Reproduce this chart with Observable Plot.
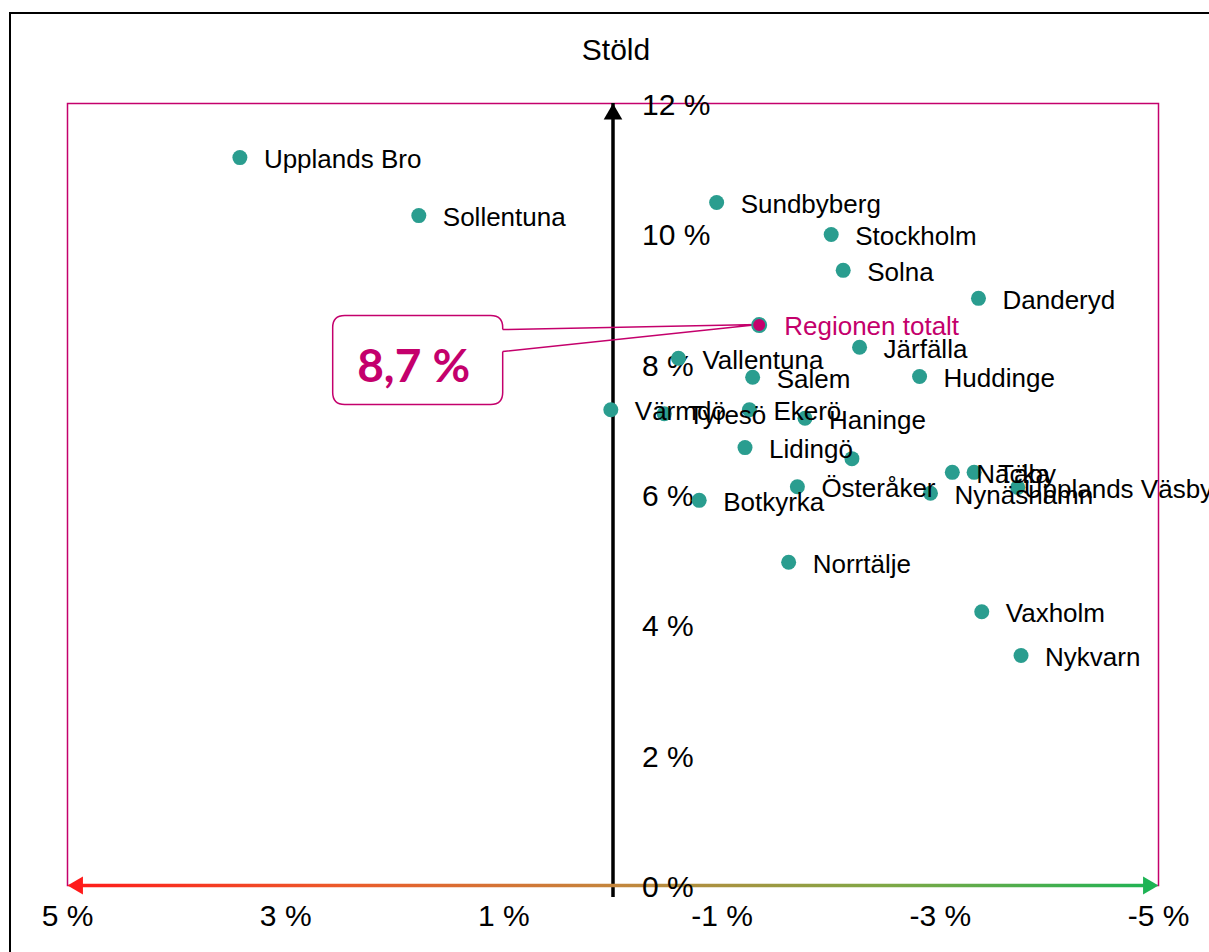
<!DOCTYPE html>
<html>
<head>
<meta charset="utf-8">
<script src="https://cdn.jsdelivr.net/npm/d3@7"></script>
<script src="https://cdn.jsdelivr.net/npm/@observablehq/plot@0.6"></script>
<style>
html, body { margin: 0; padding: 0; background: #fff; overflow: hidden; }
#wrap { position: relative; width: 1209px; height: 952px; font-family: "Liberation Sans", Arial, sans-serif; }
#border { position: absolute; left: 9px; top: 12px; width: 1400px; height: 1200px; border: 2px solid #000; box-sizing: border-box; pointer-events: none; }
#title { position: relative; width: 1209px; height: 80px; box-sizing: border-box; padding-top: 32px; padding-left: 23px; text-align: center; font-size: 30px; line-height: 36px; color: #000; }
#chart svg { display: block; }
</style>
</head>
<body>
<div id="wrap">
  <div id="border"></div>
  <div id="title"></div>
  <div id="chart"></div>
</div>
<script>
// ---- data ----
const chartTitle = "Stöld";
const municipalities = ["Upplands Bro","Sollentuna","Sundbyberg","Stockholm","Solna","Danderyd","Järfälla","Vallentuna","Salem","Huddinge","Värmdö","Tyresö","Ekerö","Haninge","Lidingö","","Österåker","Botkyrka","Nacka","Täby","Upplands Väsby","Nynäshamn","Norrtälje","Vaxholm","Nykvarn"];
const changeValues = [3.42,1.78,-0.95,-2.00,-2.11,-3.35,-2.26,-0.60,-1.28,-2.81,0.02,-0.47,-1.25,-1.76,-1.21,-2.19,-1.69,-0.79,-3.11,-3.31,-3.71,-2.91,-1.61,-3.38,-3.74];
const theftValues = [11.17,10.28,10.48,9.99,9.44,9.01,8.26,8.09,7.80,7.81,7.30,7.24,7.30,7.17,6.72,6.55,6.12,5.91,6.34,6.34,6.11,6.02,4.96,4.20,3.53];
const regionName = "Regionen totalt";
const regionChange = -1.34;
const regionTheft = 8.6;
const regionCallout = "8,7 %";
const xTickValues = [5, 3, 1, -1, -3, -5];
const yTickValues = [0, 2, 4, 6, 8, 10, 12];

// ---- styles ----
const teal = "#2a9d8f";
const crimson = "#c4006c";

document.getElementById("title").textContent = chartTitle;

const rows = municipalities.map((name, i) => ({name, x: changeValues[i], y: theftValues[i]}));
const region = [{name: regionName, x: regionChange, y: regionTheft}];
const fmt = d => `${d} %`;

const chart = Plot.plot({
  width: 1209,
  height: 872,
  marginTop: 23,
  marginBottom: 67,
  marginLeft: 67,
  marginRight: 51,
  style: {fontFamily: '"Liberation Sans", Arial, sans-serif', background: "transparent", overflow: "visible"},
  x: {domain: [5, -5], axis: null},
  y: {domain: [0, 12], axis: null},
  marks: [
    Plot.frame({stroke: crimson, strokeWidth: 1.5}),
    // vertical axis arrow
    Plot.ruleX([0], {y1: 0, y2: 12, stroke: "#000", strokeWidth: 3.5, insetTop: 12}),
    Plot.dot([{x: 0, y: 12}], {x: "x", y: "y", symbol: "triangle", r: 6.9, fill: "#000", stroke: null, dy: 10.7}),
    // horizontal gradient arrow
    Plot.ruleY([0], {x1: 5, x2: -5, stroke: "url(#xgrad)", strokeWidth: 3.5, insetLeft: 12, insetRight: 12}),
    Plot.dot([{x: 5, y: 0}], {x: "x", y: "y", symbol: "triangle", rotate: -90, r: 6.6, fill: "#ff1a1a", stroke: null, dx: 10.3}),
    Plot.dot([{x: -5, y: 0}], {x: "x", y: "y", symbol: "triangle", rotate: 90, r: 6.6, fill: "#1db354", stroke: null, dx: -10.3}),
    // tick labels
    Plot.text(yTickValues, {x: () => 0, y: d => d, text: fmt, textAnchor: "start", dx: 29, dy: 2, fontSize: 30, fill: "#000"}),
    Plot.text(xTickValues, {x: d => d, text: d => `${d} %`, frameAnchor: "bottom", dy: 40, fontSize: 30, fill: "#000"}),
    // municipalities
    Plot.dot(rows, {x: "x", y: "y", r: 7.5, fill: teal, stroke: null}),
    Plot.text(rows.filter(d => d.name !== "Upplands Väsby"), {x: "x", y: "y", text: "name", textAnchor: "start", dx: 24, dy: 2, fontSize: 26, fill: "#000"}),
    Plot.text(rows.filter(d => d.name === "Upplands Väsby"), {x: "x", y: "y", text: "name", textAnchor: "start", dx: 6, dy: 2, fontSize: 26, fill: "#000"}),
    // region
    Plot.dot(region, {x: "x", y: "y", r: 7, fill: crimson, stroke: teal, strokeWidth: 2}),
    Plot.text(region, {x: "x", y: "y", text: "name", textAnchor: "start", dx: 25, dy: 2, fontSize: 26, fill: crimson})
  ]
});

document.getElementById("chart").appendChild(chart);

// gradient for the horizontal arrow (user space, from scale positions)
const sx = chart.scale("x"), sy = chart.scale("y");
const svg = d3.select(chart);
const defs = svg.insert("defs", ":first-child");
const grad = defs.append("linearGradient")
  .attr("id", "xgrad")
  .attr("gradientUnits", "userSpaceOnUse")
  .attr("x1", sx.apply(5)).attr("x2", sx.apply(-5))
  .attr("y1", 0).attr("y2", 0);
grad.append("stop").attr("offset", "0%").attr("stop-color", "#ff1a1a");
grad.append("stop").attr("offset", "25%").attr("stop-color", "#ec5a2a");
grad.append("stop").attr("offset", "50%").attr("stop-color", "#c4853c");
grad.append("stop").attr("offset", "75%").attr("stop-color", "#7fa846");
grad.append("stop").attr("offset", "100%").attr("stop-color", "#1db354");

// callout anchored to the region point
const ax = sx.apply(regionChange), ay = sy.apply(regionTheft);
const L = ax - 426, R = ax - 256, T = ay - 9, B = ay + 80, rr = 12;
const n1 = ay + 5, n2 = ay + 27;
const firstDot = chart.querySelector('g[aria-label="dot"]:not(:first-of-type)');
const dotGroups = chart.querySelectorAll('g[aria-label="dot"]');
const before = dotGroups[dotGroups.length - 2];
const g = d3.create("svg:g");
g.append("path")
  .attr("d", `M${R},${n2} L${R},${B - rr} Q${R},${B} ${R - rr},${B} L${L + rr},${B} Q${L},${B} ${L},${B - rr} L${L},${T + rr} Q${L},${T} ${L + rr},${T} L${R - rr},${T} Q${R},${T} ${R},${T + rr} L${R},${n1}`)
  .attr("fill", "#fff").attr("stroke", crimson).attr("stroke-width", 1.5);
g.append("path")
  .attr("d", `M${R},${n1} L${ax},${ay} L${R},${n2}`)
  .attr("fill", "none").attr("stroke", crimson).attr("stroke-width", 1.5);
g.append("text")
  .attr("x", (L + R) / 2 - 4).attr("y", (T + B) / 2 + 4)
  .attr("text-anchor", "middle").attr("dominant-baseline", "central")
  .attr("font-family", "Lato, 'Open Sans', sans-serif").attr("font-weight", "bold")
  .attr("font-size", 46).attr("fill", crimson)
  .text(regionCallout);
chart.insertBefore(g.node(), before);
</script>
</body>
</html>
